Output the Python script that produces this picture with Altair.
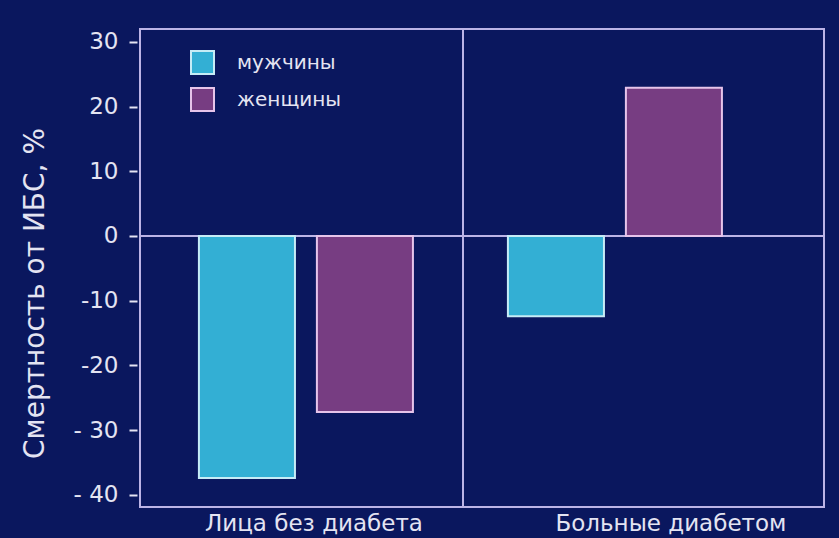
import altair as alt
import pandas as pd

groups = ["Лица без диабета", "Лица без диабета", "Больные диабетом", "Больные диабетом"]
sexes = ["мужчины", "женщины", "мужчины", "женщины"]
values = [-37.4, -27.2, -12.4, 22.9]

group_order = ["Лица без диабета", "Больные диабетом"]
sex_order = ["мужчины", "женщины"]
sex_colors = ["#33afd4", "#773d82"]
sex_strokes = ["#c6ecf6", "#e6c4ea"]

y_ticks = [30, 20, 10, 0, -10, -20, -30, -40]

df = pd.DataFrame({"group": groups, "sex": sexes, "value": values})

BG = "#0a175e"
FG = "#e4e4f2"
FRAME = "#bcb4e6"

x_scale = alt.Scale(domain=group_order, paddingInner=0.3074, paddingOuter=0.2605, align=0.366)

bars = alt.Chart(df).mark_bar(strokeWidth=2).encode(
    x=alt.X("group:N", sort=group_order, scale=x_scale, title=None,
            axis=alt.Axis(labelAngle=0, labelFontSize=23, labelFont="DejaVu Sans",
                          labelColor=FG, ticks=False, domain=False, labelPadding=5,
                          labelLimit=500,
                          labelOffset={"condition": {"test": "datum.value == 'Больные диабетом'", "value": 56},
                                       "value": 8})),
    xOffset=alt.XOffset("sex:N", sort=sex_order,
                        scale=alt.Scale(domain=sex_order, paddingInner=0.186, paddingOuter=0)),
    y=alt.Y("value:Q", scale=alt.Scale(domain=[-41.9, 32.0], nice=False, zero=False),
            title="Смертность от ИБС, %",
            axis=alt.Axis(values=y_ticks, grid=False, domain=False, offset=3,
                          tickSize=8, tickWidth=2, tickColor=FG,
                          labelFontSize=23, labelFont="DejaVu Sans", labelColor=FG, labelPadding=11,
                          labelExpr="datum.value < 0 ? ((datum.value <= -30 ? '- ' : '-') + abs(datum.value)) : '' + datum.value",
                          titleFont="DejaVu Sans", titleFontSize=28, titleFontWeight="normal",
                          titleColor=FG, titleX=-102, titleY=264, titleAngle=270,
                          titleAlign="center", titleBaseline="middle")),
    color=alt.Color("sex:N", sort=sex_order,
                    scale=alt.Scale(domain=sex_order, range=sex_colors),
                    legend=alt.Legend(title=None, orient="none", legendX=50, legendY=21,
                                      symbolType="square", symbolSize=529,
                                      symbolStrokeColor="#d8d4f0", symbolStrokeWidth=2,
                                      symbolOpacity=1,
                                      labelFontSize=20, labelFont="DejaVu Sans", labelColor=FG,
                                      labelOffset=22, rowPadding=6, padding=0)),
    stroke=alt.Stroke("sex:N", sort=sex_order,
                      scale=alt.Scale(domain=sex_order, range=sex_strokes), legend=None),
)

zero_line = alt.Chart(df).mark_rule(color=FRAME, strokeWidth=2).encode(y=alt.datum(0))
divider = alt.Chart(df).mark_rule(color=FRAME, strokeWidth=2).encode(
    x=alt.value(323), y=alt.value(0), y2=alt.value(478))

chart = alt.layer(zero_line, divider, bars).properties(
    width=684, height=478,
    background=BG,
    padding={"left": 140, "top": 29, "right": 15, "bottom": 31},
    autosize=alt.AutoSizeParams(type="none"),
).configure_view(
    stroke=FRAME, strokeWidth=2, fill=BG
)

chart.save("out.html", embed_options={"renderer": "svg", "actions": False})
